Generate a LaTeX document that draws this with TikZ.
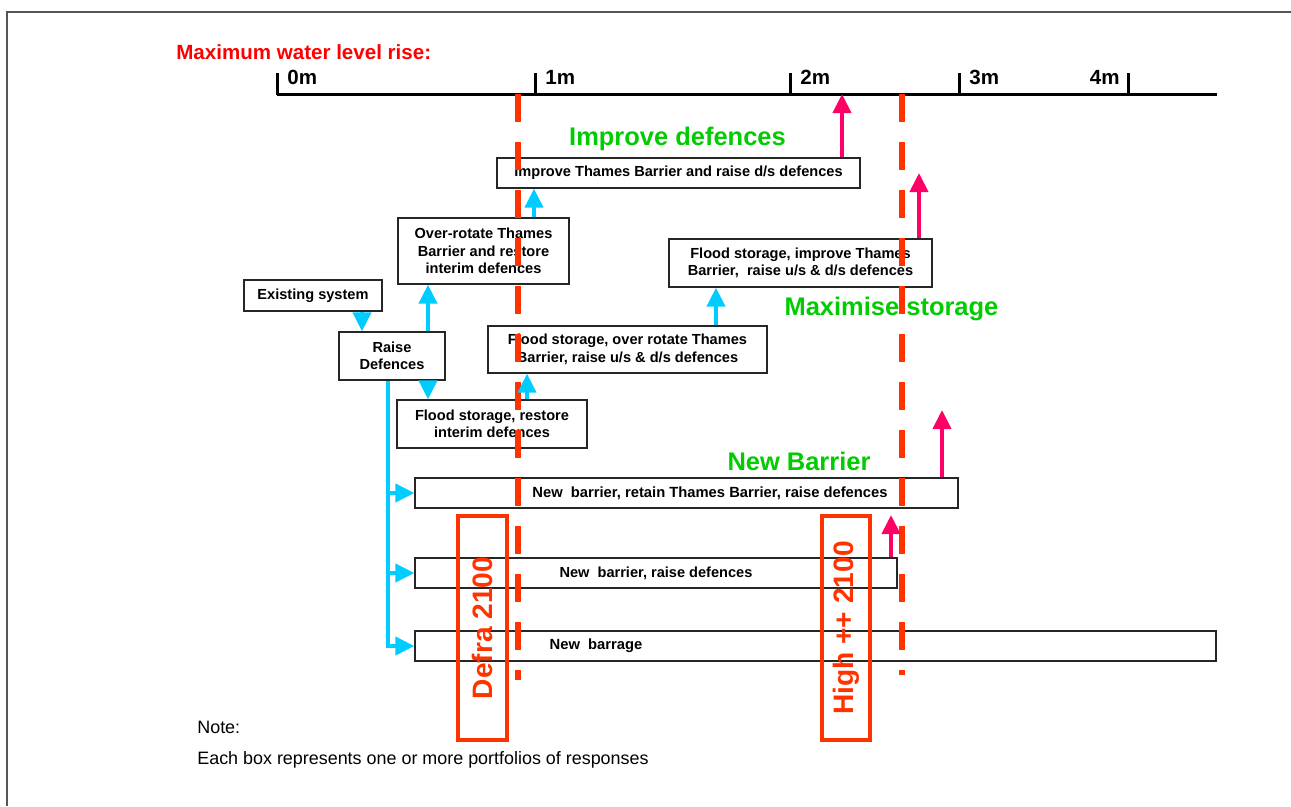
\documentclass[tikz,border=0pt]{standalone}
\usepackage{fontspec}
\setmainfont{Liberation Sans}
\usetikzlibrary{arrows.meta,positioning}
\newcommand{\px}{0.02cm}
\definecolor{levelred}{HTML}{FF3300}
\definecolor{titlered}{HTML}{FF0000}
\definecolor{riseblue}{HTML}{00CCFF}
\definecolor{risepink}{HTML}{FF0066}
\definecolor{optgreen}{HTML}{00CC00}
\definecolor{framegray}{HTML}{555555}

\begin{document}
\begin{tikzpicture}[x=\px,y=-\px,
  boxsize/.style 2 args={minimum width=#1*\px, minimum height=#2*\px},
  optbox/.style={draw=black!85, line width=0.7pt, fill=white, inner sep=0pt, align=center,
    font=\fontsize{8.3}{9.9}\selectfont\bfseries},
  boxtext/.style={inner sep=0pt, font=\fontsize{8.4}{9.9}\selectfont\bfseries},
  yearbox/.style={draw=levelred, line width=0.08cm, text=levelred, inner sep=0pt, rotate=90,
    font=\fontsize{16}{18}\selectfont\bfseries},
  groupname/.style={text=optgreen, inner sep=0pt, font=\fontsize{14.5}{17}\selectfont\bfseries},
  axisline/.style={black, line width=0.06cm},
  levelline/.style={levelred, line width=0.13cm, dash pattern=on 0.56cm off 0.4cm},
  risearrow/.style={riseblue, line width=0.08cm, -{Triangle[width=0.36cm,length=0.38cm]}},
  pinkarrow/.style={risepink, line width=0.08cm, -{Triangle[width=0.36cm,length=0.38cm]}}]
  \useasboundingbox (0,0) rectangle (1291,806);
  \draw[framegray, line width=0.045cm] (7,806) -- (7,12) -- (1291,12);
% Scale of water level rise
  \node[anchor=west, inner sep=0pt, text=titlered, font=\fontsize{11.7}{14}\selectfont\bfseries]
    (title) at (176,52) {Maximum water level rise:};
  \coordinate (ax0) at (277,94);
  \coordinate (ax1) at (1217,94);
  \draw[axisline] (ax0) -- (ax1);
  \foreach \x/\lab in {277/0m,535/1m,790/2m,959/3m}{
    \draw[axisline] (\x,95) -- (\x,73);
    \node[anchor=west, inner sep=0pt, font=\fontsize{11.7}{14}\selectfont\bfseries]
      (tick\lab) at (\x+10,77) {\lab};
  }
  \draw[axisline] (1128,95) -- (1128,73);
  \node[anchor=east, inner sep=0pt, font=\fontsize{11.7}{14}\selectfont\bfseries]
    (tick4m) at (1120,77) {4m};
% Portfolio boxes
  \node[optbox, boxsize={363}{30}] (impr) at (678.5,173) {Improve Thames Barrier and raise d/s defences};
  \node[optbox, boxsize={171}{66}] (overrot) at (483.5,251) {Over-rotate Thames\\Barrier and restore\\interim defences};
  \node[optbox, boxsize={138}{31}] (exist) at (313,295.5) {Existing system};
  \node[optbox, boxsize={106}{48}] (raise) at (392,356) {Raise\\Defences};
  \node[optbox, boxsize={279}{47}] (fsover) at (627.5,349.5) {Flood storage, over rotate Thames\\Barrier, raise u/s \& d/s defences};
  \node[optbox, boxsize={190}{48}] (fsrest) at (492,424) {Flood storage, restore\\interim defences};
  \node[optbox, boxsize={263}{48}] (fsimpr) at (800.5,263) {Flood storage, improve Thames\\Barrier,\ \ raise u/s \& d/s defences};
  \node[optbox, boxsize={543}{30}] (nbret) at (686.5,493) {};
  \node[boxtext] (nbrettext) at (710,493) {New\ \ barrier, retain Thames Barrier, raise defences};
  \node[optbox, boxsize={482}{30}] (nbraise) at (656,573) {New\ \ barrier, raise defences};
  \node[optbox, boxsize={801}{30}] (nbarrage) at (815.5,646) {};
  \node[boxtext] (nbarragetext) at (596,646) {New\ \ barrage};
% Group names
  \node[groupname] (grpimpr) at (677.5,139) {Improve defences};
  \node[groupname] (grpstore) at (891.5,309) {Maximise storage};
  \node[groupname] (grpnew) at (799,461) {New Barrier};
% Scenario boxes and levels
  \node[yearbox, boxsize={224}{49}] (defra) at (482.5,628) {Defra 2100};
  \node[yearbox, boxsize={224}{48}] (high) at (846,628) {High ++ 2100};
  \draw[levelline] (518,94) -- (518,680);
  \draw[levelline] (902,94) -- (902,675);
% Routes between portfolios
  \coordinate (colA) at (362,0);
  \coordinate (colB) at (428,0);
  \coordinate (colC) at (527,0);
  \coordinate (colD) at (534,0);
  \coordinate (colE) at (716,0);
  \coordinate (trunk) at (388,0);
  \draw[risearrow] (exist.south -| colA) -- (raise.north -| colA);
  \draw[risearrow] (raise.north -| colB) -- (overrot.south -| colB);
  \draw[risearrow] (raise.south -| colB) -- (fsrest.north -| colB);
  \draw[risearrow] (fsrest.north -| colC) -- (fsover.south -| colC);
  \draw[risearrow] (overrot.north -| colD) -- (impr.south -| colD);
  \draw[risearrow] (fsover.north -| colE) -- (fsimpr.south -| colE);
  \draw[risearrow] (raise.south -| trunk) |- (nbarrage.west);
  \draw[risearrow] (trunk |- nbret.west) -- (nbret.west);
  \draw[risearrow] (trunk |- nbraise.west) -- (nbraise.west);
% Limits of each portfolio
  \coordinate (limit1) at (842,94);
  \coordinate (limit2) at (919,173);
  \coordinate (limit3) at (942,410);
  \coordinate (limit4) at (891,515);
  \draw[pinkarrow] (impr.north -| limit1) -- (limit1);
  \draw[pinkarrow] (fsimpr.north -| limit2) -- (limit2);
  \draw[pinkarrow] (nbret.north -| limit3) -- (limit3);
  \draw[pinkarrow] (nbraise.north -| limit4) -- (limit4);
% Note
  \node[anchor=west, inner sep=0pt, font=\fontsize{10.2}{12}\selectfont] (note) at (197,727) {Note:};
  \node[anchor=west, inner sep=0pt, font=\fontsize{10.2}{12}\selectfont] (notetext) at (197,760)
    {Each box represents one or more portfolios of responses};
\end{tikzpicture}
\end{document}
